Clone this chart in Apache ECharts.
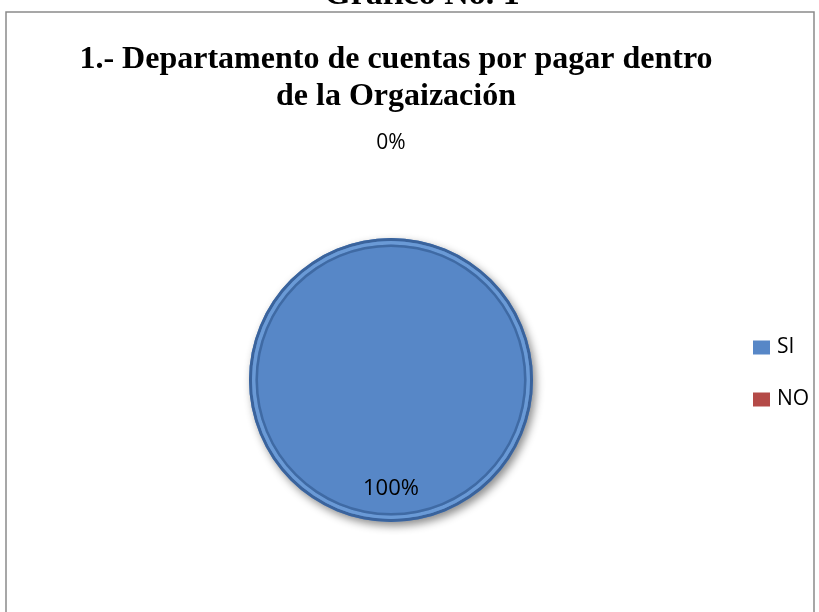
<!DOCTYPE html>
<html>
<head>
<meta charset="utf-8">
<script src="https://cdn.jsdelivr.net/npm/echarts@6/dist/echarts.min.js"></script>
<style>
html,body{margin:0;padding:0;background:#fff;}
#chart{width:819px;height:612px;}
</style>
</head>
<body>
<div id="chart"></div>
<script>
var categories = ['SI', 'NO'];
var values = [100, 0];
var colors = ['#5787c7', '#b44a47'];
var titleLines = ['1.- Departamento de cuentas por pagar dentro', 'de la Orgaización'];
var captionText = 'Gráfico No. 1';

var C = [391, 380];

var chart = echarts.init(document.getElementById('chart'), null, { renderer: 'canvas' });
chart.setOption({
  backgroundColor: '#ffffff',
  animation: false,
  title: {
    text: titleLines.join('\n'),
    left: 391, top: 36, textAlign: 'center',
    textStyle: { fontFamily: 'Liberation Serif', fontWeight: 'bold', fontSize: 32, lineHeight: 37, color: '#000' }
  },
  legend: {
    data: categories,
    orient: 'vertical',
    left: 748, top: 332,
    itemWidth: 17, itemHeight: 14, itemGap: 31,
    icon: 'rect',
    itemStyle: { borderWidth: 0 },
    textStyle: { fontFamily: 'Open Sans', fontSize: 21, color: '#000', padding: [0, 0, 0, 2] }
  },
  graphic: [
    { type: 'rect', shape: { x: 6, y: 12, width: 808, height: 620 }, style: { fill: 'none', stroke: '#8a8a8a', lineWidth: 1.5 }, silent: true },
    { type: 'text', x: 422, y: 12, silent: true,
      style: { text: captionText, font: 'bold 34px "Liberation Serif"', fill: '#000', textAlign: 'center', textVerticalAlign: 'bottom' } }
  ],
  series: [
    {
      type: 'pie', center: C, radius: 142, startAngle: 90,
      silent: true, label: { show: false }, labelLine: { show: false },
      itemStyle: { borderWidth: 0, shadowBlur: 9, shadowOffsetX: 3, shadowOffsetY: 4, shadowColor: 'rgba(0,0,0,0.45)' },
      data: categories.map(function (c, i) { return { name: c, value: values[i], itemStyle: { color: colors[i] } }; })
    },
    {
      type: 'pie', center: C, radius: [139, 142], startAngle: 90,
      silent: true, label: { show: false }, labelLine: { show: false },
      itemStyle: { color: '#3a639c' },
      data: categories.map(function (c, i) { return { name: c, value: values[i] }; })
    },
    {
      type: 'pie', center: C, radius: [135.5, 139], startAngle: 90,
      silent: true, label: { show: false }, labelLine: { show: false },
      itemStyle: { color: '#6a9ad6' },
      data: categories.map(function (c, i) { return { name: c, value: values[i] }; })
    },
    {
      type: 'pie', center: C, radius: [133, 135.5], startAngle: 90,
      silent: true, label: { show: false }, labelLine: { show: false },
      itemStyle: { color: '#3f6aa4' },
      data: categories.map(function (c, i) { return { name: c, value: values[i] }; })
    },
    {
      type: 'pie', center: C, radius: [70, 142], startAngle: 90,
      silent: true, labelLine: { show: false },
      label: { show: true, position: 'inside', formatter: '{d}%', fontFamily: 'Open Sans', fontSize: 22, color: '#000' },
      itemStyle: { color: 'rgba(0,0,0,0)' },
      data: categories.map(function (c, i) { return { name: c, value: values[i], label: { show: i === 0 } }; })
    },
    {
      type: 'pie', center: C, radius: [227, 241], startAngle: 90,
      silent: true, labelLine: { show: false },
      label: { show: true, position: 'inside', formatter: '{d}%', fontFamily: 'Open Sans', fontSize: 21, color: '#000' },
      itemStyle: { color: 'rgba(0,0,0,0)' },
      data: categories.map(function (c, i) { return { name: c, value: values[i], label: { show: i === 1 } }; })
    }
  ]
});
</script>
</body>
</html>
